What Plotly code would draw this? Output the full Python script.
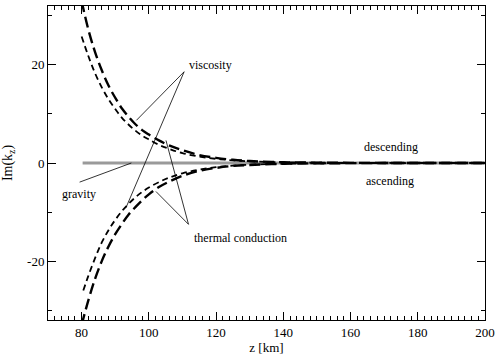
import plotly.graph_objects as go

# altitude grid [km]
z = [80, 82, 84, 86, 88, 90, 92, 94, 96, 98, 100, 103, 106, 110, 115, 120, 125, 130,
     140, 150, 160, 170, 180, 190, 200]

# descending (upper), long dash
desc_long = [33.0, 27.2, 22.6, 18.9, 15.8, 13.3, 11.1, 9.4, 7.9, 6.7, 5.8, 4.6, 3.6, 2.6,
             1.6, 1.05, 0.65, 0.4, 0.15, 0.07, 0.03, 0.015, 0.008, 0.004, 0.002]
# descending (upper), short dash
desc_short = [25.8, 21.8, 18.3, 15.4, 13.0, 11.0, 9.2, 7.8, 6.6, 5.6, 4.8, 3.7, 2.9, 2.0,
              1.3, 0.85, 0.55, 0.35, 0.14, 0.06, 0.03, 0.012, 0.006, 0.003, 0.001]
# ascending (lower), long dash
asc_long = [-33.0, -28.0, -23.6, -20.0, -17.0, -14.5, -12.4, -10.5, -9.0, -7.6, -6.4, -4.9,
            -3.8, -2.6, -1.6, -1.0, -0.6, -0.4, -0.15, -0.07, -0.03, -0.015, -0.008, -0.004, -0.002]
# ascending (lower), short dash
z_asc_short = [80.5, 82, 84, 86, 88, 90, 92, 94, 96, 98, 100, 103, 106, 110, 115, 120, 125, 130,
               140, 150, 160, 170, 180, 190, 200]
asc_short = [-26.0, -23.0, -19.4, -16.2, -13.7, -11.6, -9.8, -8.3, -7.0, -5.9, -5.0, -3.9,
             -3.0, -2.1, -1.35, -0.85, -0.55, -0.35, -0.14, -0.06, -0.03, -0.012, -0.006, -0.003, -0.001]
# gravity (zero line)
z_grav = [80.3, 200]
grav = [0, 0]

y_tickvals = [-20, 0, 20]
y_ticktext = ["-20", "0", "20"]
x_tickvals = [80, 100, 120, 140, 160, 180, 200]

FONT = "Liberation Serif"

fig = go.Figure()
fig.add_trace(go.Scatter(x=z_grav, y=grav, mode="lines",
                         line=dict(color="#9a9a9a", width=3), showlegend=False))
fig.add_trace(go.Scatter(x=z, y=desc_short, mode="lines", line_shape="spline",
                         line=dict(color="black", width=1.8, dash="6px,4px"), showlegend=False))
fig.add_trace(go.Scatter(x=z_asc_short, y=asc_short, mode="lines", line_shape="spline",
                         line=dict(color="black", width=1.8, dash="6px,4px"), showlegend=False))
fig.add_trace(go.Scatter(x=z, y=desc_long, mode="lines", line_shape="spline",
                         line=dict(color="black", width=2.4, dash="11px,5px"), showlegend=False))
fig.add_trace(go.Scatter(x=z, y=asc_long, mode="lines", line_shape="spline",
                         line=dict(color="black", width=2.4, dash="11px,5px"), showlegend=False))

# annotation leader lines (data coordinates)
leaders = [
    ((110.5, 18.6), (96.3, 8.7)),     # viscosity -> upper
    ((110.5, 18.6), (93.2, -9.1)),    # viscosity -> lower
    ((79.4, -3.9), (94.8, 0.0)),      # gravity
    ((111.8, -12.5), (102.1, -5.8)),  # thermal conduction -> lower
    ((111.8, -12.5), (105.1, 4.6)),   # thermal conduction -> upper
]
shapes = []
for (x0, y0), (x1, y1) in leaders:
    shapes.append(dict(type="line", xref="x", yref="y", x0=x0, y0=y0, x1=x1, y1=y1,
                       line=dict(color="black", width=0.8)))

labels = [
    ("viscosity", 118.2, 20.0),
    ("gravity", 79.3, -6.3),
    ("thermal conduction", 127.4, -15.3),
    ("descending", 171.9, 3.3),
    ("ascending", 171.6, -3.6),
]
annotations = [dict(text=t, x=x, y=y, xref="x", yref="y", showarrow=False,
                    font=dict(family=FONT, size=12, color="black")) for t, x, y in labels]

axis_common = dict(showline=True, linecolor="black", linewidth=1, mirror="allticks",
                   ticks="inside", ticklen=8, tickcolor="black", tickwidth=1,
                   showgrid=False, zeroline=False,
                   tickfont=dict(family=FONT, size=13, color="black"))

fig.update_layout(
    width=500, height=355,
    margin=dict(l=44, r=14, t=5, b=34),
    paper_bgcolor="white", plot_bgcolor="white",
    shapes=shapes, annotations=annotations,
    font=dict(family=FONT, size=12, color="black"),
    xaxis=dict(range=[70, 200], tickvals=x_tickvals,
               minor=dict(dtick=2, ticklen=4, ticks="inside", tickcolor="black"),
               title=dict(text="z [km]", font=dict(family=FONT, size=13), standoff=1),
               **axis_common),
    yaxis=dict(range=[-32, 32], tickvals=y_tickvals, ticktext=y_ticktext,
               minor=dict(tickvals=[-30, -10, 10, 30], ticklen=4, ticks="inside", tickcolor="black"),
               title=dict(text="Im(k<sub>z</sub>)", font=dict(family=FONT, size=14), standoff=12),
               **axis_common),
)

fig.write_html("out.html")
